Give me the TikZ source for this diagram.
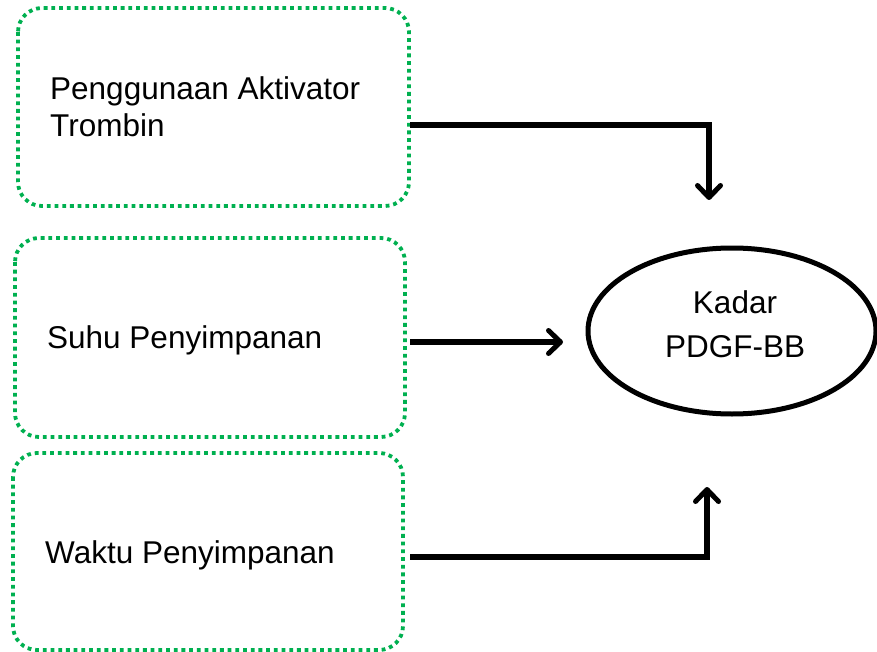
\documentclass[tikz,border=0pt]{standalone}
\usepackage{fontspec}
\setmainfont{Liberation Sans}
\usetikzlibrary{arrows.meta}
\definecolor{boxgreen}{RGB}{0,176,80}
\begin{document}
\begin{tikzpicture}[x=1pt,y=-1pt,
  factor/.style={draw=boxgreen, line width=3.8pt, dash pattern=on 3.8pt off 3.9pt, rounded corners=24pt},
  lbl/.style={anchor=base west, inner sep=0pt, font=\fontsize{31.5}{37}\selectfont, align=left},
  conn/.style={line width=5.2pt, -{Straight Barb[length=12pt,width=23pt,line width=5pt,round]}, line join=miter}]
\useasboundingbox (0,0) rectangle (877,652);
% boxes
\draw[factor] (18,8) rectangle (409,206);
\draw[factor] (15,238) rectangle (405,437);
\draw[factor] (13,453) rectangle (403,650);
\node (b1) at (213.5,107) {};
\node (b2) at (210,337.5) {};
\node (b3) at (208,551.5) {};
\node[lbl] (t1) at (50,137) {Penggunaan Aktivator\\Trombin};
\node[lbl] (t2) at (47,348) {Suhu Penyimpanan};
\node[lbl] (t3) at (45,563) {Waktu Penyimpanan};
% ellipse
\draw[line width=5pt] (732,331) ellipse [x radius=144, y radius=83];
\node (k) at (732,331) {};
\node[anchor=base, inner sep=0pt, font=\fontsize{31.5}{37}\selectfont] (k1) at (735,313) {Kadar};
\node[anchor=base, inner sep=0pt, font=\fontsize{31.5}{37}\selectfont] (k2) at (735,357) {PDGF-BB};
% connectors
\coordinate (s1) at (410,125);
\coordinate (e1) at (709,200);
\coordinate (s2) at (410,342);
\coordinate (e2) at (563,342);
\coordinate (s3) at (410,557);
\coordinate (e3) at (707,487);
\draw[conn] (s1) -| (e1);
\draw[conn] (s2) -- (e2);
\draw[conn] (s3) -| (e3);
\end{tikzpicture}
\end{document}
